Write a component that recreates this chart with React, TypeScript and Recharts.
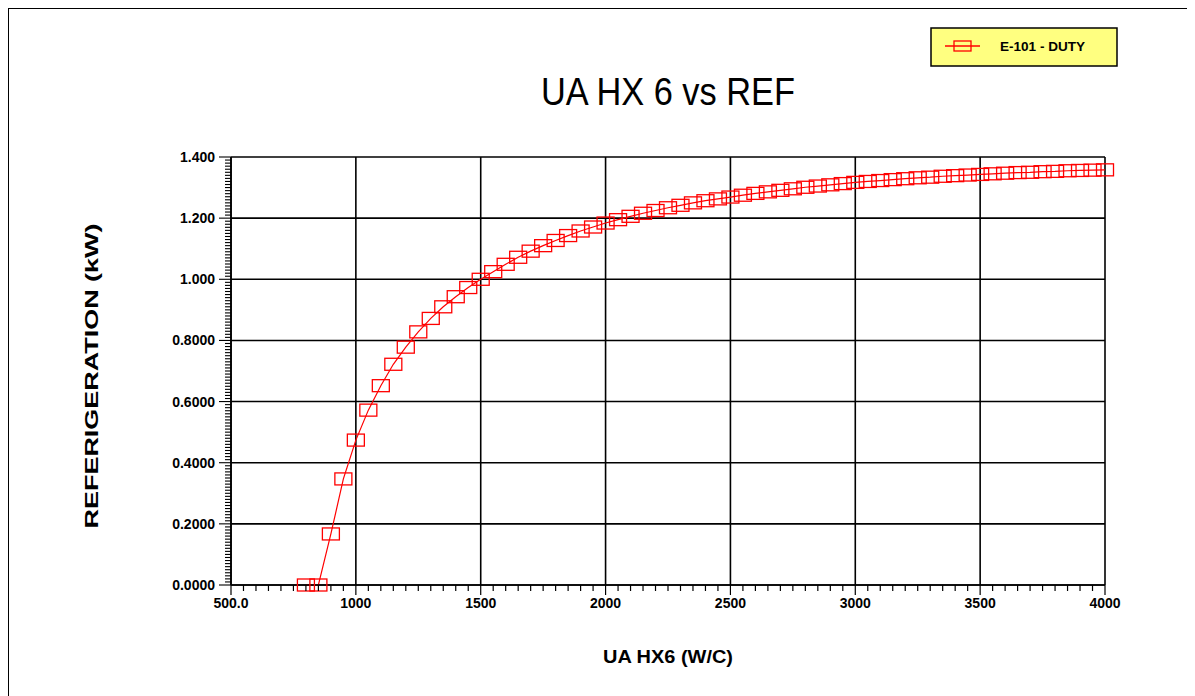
import { CartesianGrid, Line, LineChart, XAxis, YAxis } from "recharts";

const uaValues = [
  800, 850, 900, 950, 1000, 1050, 1100, 1150, 1200, 1250, 1300, 1350, 1400, 1450, 1500, 1550, 1600, 1650,
  1700, 1750, 1800, 1850, 1900, 1950, 2000, 2050, 2100, 2150, 2200, 2250, 2300, 2350, 2400, 2450, 2500,
  2550, 2600, 2650, 2700, 2750, 2800, 2850, 2900, 2950, 3000, 3050, 3100, 3150, 3200, 3250, 3300, 3350,
  3400, 3450, 3500, 3550, 3600, 3650, 3700, 3750, 3800, 3850, 3900, 3950, 4000,
];

const dutyValues = [
  0, 0, 0.167, 0.347, 0.474, 0.572, 0.652, 0.722, 0.778, 0.828, 0.872, 0.91, 0.943, 0.973, 1.0, 1.025,
  1.049, 1.072, 1.092, 1.11, 1.127, 1.143, 1.158, 1.171, 1.184, 1.195, 1.206, 1.216, 1.225, 1.234, 1.242,
  1.25, 1.257, 1.263, 1.269, 1.275, 1.281, 1.286, 1.291, 1.296, 1.301, 1.305, 1.309, 1.313, 1.317, 1.32,
  1.323, 1.326, 1.329, 1.332, 1.334, 1.337, 1.339, 1.341, 1.343, 1.345, 1.347, 1.349, 1.35, 1.352, 1.353,
  1.355, 1.356, 1.357, 1.358,
];

const xTickValues = [500, 1000, 1500, 2000, 2500, 3000, 3500, 4000];
const xTickLabels = ["500.0", "1000", "1500", "2000", "2500", "3000", "3500", "4000"];
const yTickValues = [0, 0.2, 0.4, 0.6, 0.8, 1.0, 1.2, 1.4];
const yTickLabels = ["0.0000", "0.2000", "0.4000", "0.6000", "0.8000", "1.000", "1.200", "1.400"];

const seriesName = "E-101 - DUTY";

const data = uaValues.map((ua, i) => ({ ua, duty: dutyValues[i] }));

// minor tick positions (every 50 on x, every 0.01 on y)
const xMinor = Array.from({ length: 71 }, (_, i) => 500 + i * 50);
const yMinor = Array.from({ length: 141 }, (_, i) => i / 100);

const CHART_W = 1178;
const CHART_H = 680;
const PLOT_LEFT = 222;
const PLOT_TOP = 148;
const PLOT_RIGHT = 1096;
const PLOT_BOTTOM = 576;
const Y_AXIS_W = 60;
const X_AXIS_H = 30;

const FONT = "'Liberation Sans', Arial, sans-serif";

function XTick(props: any) {
  const { x, payload } = props;
  const idx = xTickValues.indexOf(payload.value);
  const major = idx >= 0;
  return (
    <g>
      <line x1={x} x2={x} y1={PLOT_BOTTOM} y2={PLOT_BOTTOM + (major ? 10 : 6)} stroke="#000" strokeWidth={1.2} />
      {major && (
        <text x={x} y={PLOT_BOTTOM + 23} textAnchor="middle" fontFamily={FONT} fontWeight="bold" fontSize={14} fill="#000">
          {xTickLabels[idx]}
        </text>
      )}
    </g>
  );
}

function YTick(props: any) {
  const { y, payload } = props;
  const hundredths = Math.round(payload.value * 100);
  const major = hundredths % 20 === 0;
  const idx = hundredths / 20;
  return (
    <g>
      <line x1={PLOT_LEFT - (major ? 12 : 6)} x2={PLOT_LEFT} y1={y} y2={y} stroke="#000" strokeWidth={1.1} />
      {major && (
        <text x={PLOT_LEFT - 16} y={y + 5} textAnchor="end" fontFamily={FONT} fontWeight="bold" fontSize={14} fill="#000">
          {yTickLabels[idx]}
        </text>
      )}
    </g>
  );
}

function BoxDot(props: any) {
  const { cx, cy, index } = props;
  if (cx == null || cy == null) return null;
  return <rect key={index} x={cx - 8.5} y={cy - 6} width={17} height={12} fill="none" stroke="#ff0000" strokeWidth={1.3} />;
}

export default function App() {
  return (
    <div
      style={{
        position: "relative",
        width: CHART_W,
        height: 688,
        borderTop: "1px solid #000",
        borderLeft: "1px solid #000",
        borderRight: "1px solid #000",
        background: "#fff",
      }}
    >
      <LineChart
        width={CHART_W}
        height={CHART_H}
        data={data}
        margin={{
          top: PLOT_TOP,
          right: CHART_W - PLOT_RIGHT,
          left: PLOT_LEFT - Y_AXIS_W,
          bottom: CHART_H - PLOT_BOTTOM - X_AXIS_H,
        }}
      >
        <CartesianGrid
          stroke="#000"
          strokeWidth={1.6}
          horizontalValues={yTickValues}
          verticalValues={xTickValues}
        />
        <XAxis
          dataKey="ua"
          type="number"
          domain={[500, 4000]}
          ticks={xMinor}
          interval={0}
          height={X_AXIS_H}
          tickLine={false}
          axisLine={{ stroke: "#000", strokeWidth: 1.6 }}
          tick={<XTick />}
        />
        <YAxis
          type="number"
          domain={[0, 1.4]}
          ticks={yMinor}
          interval={0}
          width={Y_AXIS_W}
          tickLine={false}
          axisLine={{ stroke: "#000", strokeWidth: 1.6 }}
          tick={<YTick />}
        />
        <Line
          dataKey="duty"
          name={seriesName}
          stroke="#ff0000"
          strokeWidth={1.2}
          dot={<BoxDot />}
          activeDot={false}
          isAnimationActive={false}
        />
      </LineChart>
      <svg width={CHART_W} height={CHART_H} style={{ position: "absolute", left: 0, top: 0, pointerEvents: "none" }}>
        <text x={659} y={96} textAnchor="middle" fontFamily={FONT} fontSize={38} textLength={254} lengthAdjust="spacingAndGlyphs" fill="#000">
          UA HX 6 vs REF
        </text>
        <text x={659} y={654} textAnchor="middle" fontFamily={FONT} fontWeight="bold" fontSize={18} textLength={130} lengthAdjust="spacingAndGlyphs" fill="#000">
          UA HX6 (W/C)
        </text>
        <text
          transform="translate(89, 367) rotate(-90)"
          textAnchor="middle"
          fontFamily={FONT}
          fontWeight="bold"
          fontSize={18}
          textLength={305}
          lengthAdjust="spacingAndGlyphs"
          fill="#000"
        >
          REFERIGERATION (kW)
        </text>
        <rect x={922} y={19} width={186} height={38} fill="#ffff80" stroke="#000" strokeWidth={1.5} />
        <line x1={936} x2={971} y1={37} y2={37} stroke="#ff0000" strokeWidth={1.5} />
        <rect x={945} y={32} width={17} height={10} fill="none" stroke="#ff0000" strokeWidth={1.3} />
        <text x={991} y={42} fontFamily={FONT} fontWeight="bold" fontSize={13} textLength={85} lengthAdjust="spacingAndGlyphs" fill="#000">
          {seriesName}
        </text>
      </svg>
    </div>
  );
}
